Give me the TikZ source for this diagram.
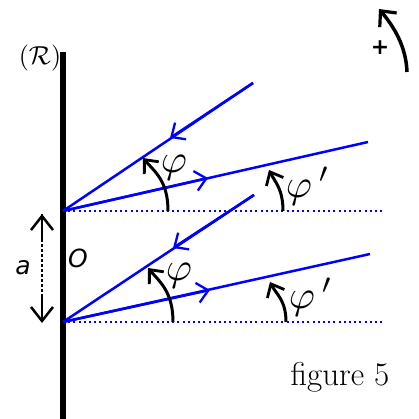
\documentclass[tikz,border=0pt]{standalone}
\usepackage{fontspec}
\newfontfamily\lblsans{DejaVu Sans}
\usetikzlibrary{arrows.meta}
\definecolor{rayblue}{RGB}{0,0,255}
\tikzset{
  ray/.style={draw=rayblue,line width=2.5pt},
  raytip/.style={ray,-{Straight Barb[length=11pt,width=20pt,line width=2.3pt]}},
  dotline/.style={draw=rayblue,line width=2pt,dash pattern=on 2pt off 3.2pt},
  angarrow/.style={draw=black,line width=3pt,-{Straight Barb[length=11pt,width=19pt,line width=2.8pt]}},
  mirror/.style={draw=black,line width=6pt},
  greek/.style={inner sep=0pt,scale=4},
  sanslbl/.style={inner sep=0pt,font=\lblsans\itshape\fontsize{25}{28}\selectfont},
}
\begin{document}
\begin{tikzpicture}[x=1pt,y=-1pt]
\useasboundingbox (0,0) rectangle (419,419);
% mirror
\coordinate (mtop) at (63,52);
\coordinate (mbot) at (63,419);
\draw[mirror] (mtop) -- (mbot);
\node[inner sep=0pt,scale=2.6] (R) at (40,58) {$(\mathcal{R})$};
% points of incidence
\coordinate (O1) at (63,211);
\coordinate (O2) at (63,322);
% upper system
\coordinate (i1) at (253,83);
\coordinate (i1a) at (170,138);
\coordinate (r1) at (368,142);
\coordinate (r1a) at (208,178);
\coordinate (h1) at (383,211);
\draw[ray] (O1) -- (i1);
\draw[raytip] (i1) -- (i1a);
\draw[ray] (O1) -- (r1);
\draw[raytip] (O1) -- (r1a);
\draw[dotline] (O1) -- (h1);
% lower system
\coordinate (i2) at (254,195);
\coordinate (i2a) at (173,248);
\coordinate (r2) at (370,254);
\coordinate (r2a) at (210,290);
\coordinate (h2) at (385,322);
\draw[ray] (O2) -- (i2);
\draw[raytip] (i2) -- (i2a);
\draw[ray] (O2) -- (r2);
\draw[raytip] (O2) -- (r2a);
\draw[dotline] (O2) -- (h2);
% angle arrows
\coordinate (a1s) at (168,211); \coordinate (a1t) at (143,158);
\coordinate (b1s) at (283,211); \coordinate (b1t) at (269,170);
\coordinate (a2s) at (173,322); \coordinate (a2t) at (148,268);
\coordinate (b2s) at (286,322); \coordinate (b2t) at (270,282);
\draw[angarrow] (a1s) .. controls +(0,-30) and +(12,14) .. (a1t);
\draw[angarrow] (b1s) .. controls +(0,-22) and +(6,12) .. (b1t);
\draw[angarrow] (a2s) .. controls +(0,-30) and +(12,14) .. (a2t);
\draw[angarrow] (b2s) .. controls +(0,-22) and +(6,12) .. (b2t);
\node[greek] (phi1) at (174,168) {$\varphi$};
\node[greek,anchor=west] (phip1) at (285,186) {$\varphi\,{}'$};
\node[greek] (phi2) at (179,276) {$\varphi$};
\node[greek,anchor=west] (phip2) at (288,297) {$\varphi\,{}'$};
% distance a
\coordinate (d1) at (42,214);
\coordinate (d2) at (42,323);
\draw[line width=2.5pt,dash pattern=on 2.5pt off 2.5pt] (d1) -- (d2);
\draw[line width=2.5pt,-{Straight Barb[length=14pt,width=22pt,line width=2.5pt]}] (42,240) -- (d1);
\draw[line width=2.5pt,-{Straight Barb[length=14pt,width=22pt,line width=2.5pt]}] (42,297) -- (d2);
\node[sanslbl] (alab) at (23,268) {a};
\node[sanslbl] (Olab) at (78,258) {O};
% orientation
\coordinate (ps) at (407,72);
\coordinate (pt) at (379,9);
\draw[line width=3.5pt,-{Straight Barb[length=12pt,width=22pt,line width=3.2pt]}] (ps) .. controls +(-1,-30) and +(10,12) .. (pt);
\node[inner sep=0pt,font=\lblsans\bfseries\fontsize{22}{24}\selectfont] (plus) at (380,48) {+};
% caption
\node[inner sep=0pt,anchor=base,font=\fontsize{33}{38}\selectfont] (cap) at (340,385) {figure 5};
\end{tikzpicture}
\end{document}
